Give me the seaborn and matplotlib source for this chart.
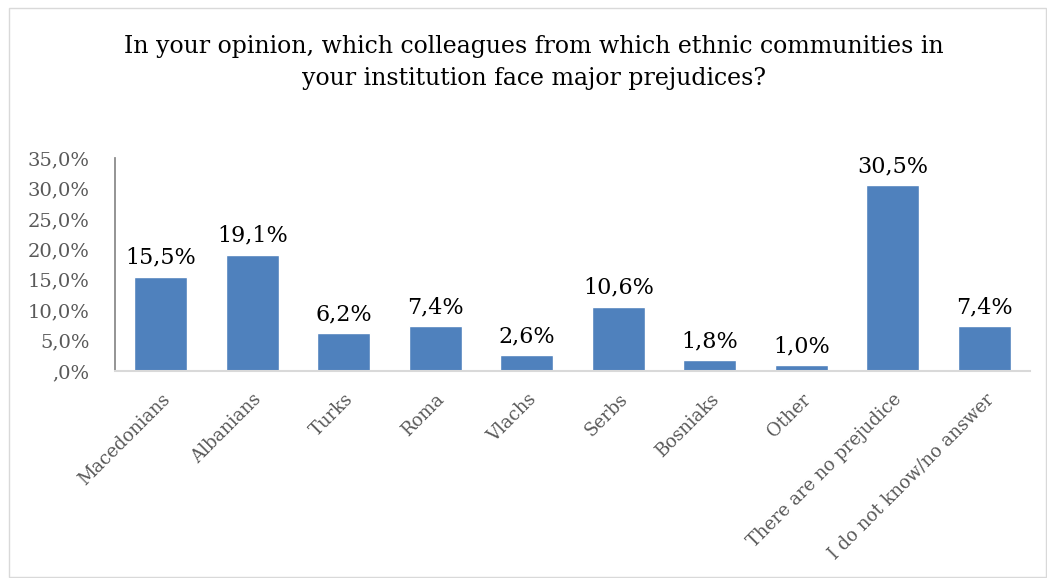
import matplotlib
matplotlib.use("Agg")
import matplotlib.pyplot as plt
import seaborn as sns
import pandas as pd
from matplotlib.patches import Rectangle

categories = ["Macedonians", "Albanians", "Turks", "Roma", "Vlachs", "Serbs",
              "Bosniaks", "Other", "There are no prejudice", "I do not know/no answer"]
shares = [15.5, 19.1, 6.2, 7.4, 2.6, 10.6, 1.8, 1.0, 30.5, 7.4]
y_ticks = [0, 5, 10, 15, 20, 25, 30, 35]
y_tick_labels = [",0%", "5,0%", "10,0%", "15,0%", "20,0%", "25,0%", "30,0%", "35,0%"]
title = ("In your opinion, which colleagues from which ethnic communities in\n"
         "your institution face major prejudices?")

sns.set_theme(style="white")
plt.rcParams['font.family'] = ['DejaVu Serif']

df = pd.DataFrame({"Group": categories, "Share": shares})

fig = plt.figure(figsize=(10.47, 5.78), dpi=100)
ax = fig.add_axes([0.1098, 0.358, 0.874, 0.3686])

sns.barplot(data=df, x="Group", y="Share", color="#4F81BD", saturation=1,
            width=0.58, ax=ax)

ax.set_ylim(0, 35)
ax.set_xlim(-0.5, len(categories) - 0.5)
ax.set_yticks(y_ticks)
ax.set_yticklabels(y_tick_labels, color="#595959", fontsize=14)
ax.set_xticks(range(len(categories)))
ax.set_xticklabels(categories, rotation=45, ha="right", rotation_mode="anchor",
                   color="#595959", fontsize=13)
ax.tick_params(axis="y", length=0, pad=18)
ax.tick_params(axis="x", length=0, pad=14)
ax.set_xlabel("")
ax.set_ylabel("")

for s in ["top", "right"]:
    ax.spines[s].set_visible(False)
ax.spines["left"].set_color("#868686")
ax.spines["bottom"].set_color("#D9D9D9")
ax.spines["bottom"].set_linewidth(1.5)

for i, v in enumerate(shares):
    ax.text(i, v + 1.3, f"{v:.1f}%".replace(".", ","), ha="center", va="bottom",
            fontsize=16, color="black")

fig.text(0.51, 0.892, title, ha="center", va="center", fontsize=17,
         color="black", linespacing=1.5)

# chart frame
fig.patches.append(Rectangle((0.009, 0.002), 0.99, 0.985, transform=fig.transFigure,
                             fill=False, edgecolor="#D9D9D9", linewidth=1))

fig.savefig("out.png", dpi=100)
